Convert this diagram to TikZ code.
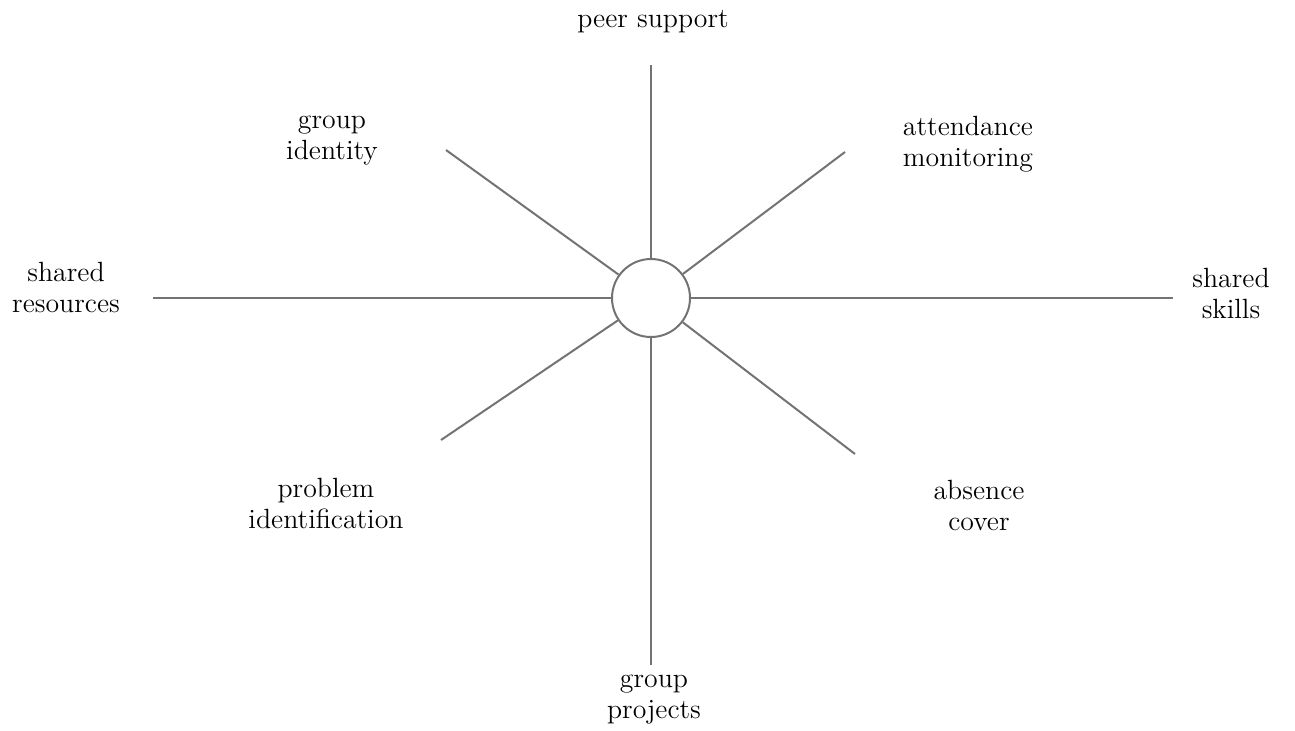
\documentclass[tikz,border=0pt]{standalone}
\tikzset{
  spoke/.style={draw=black!55,line width=1pt},
  lbl/.style={align=center,inner sep=0pt,font=\fontsize{13.9}{15.5}\selectfont}
}
\begin{document}
\begin{tikzpicture}[x=0.5pt,y=-0.5pt]
\useasboundingbox (0,0) rectangle (1295,730);

% The hub in the middle.
\node[spoke,circle,minimum size=39pt,inner sep=0pt] (hub) at (651,298) {};

% Free ends of the spokes.
\coordinate (n)  at (651,65);
\coordinate (s)  at (651,665);
\coordinate (w)  at (153,298);
\coordinate (e)  at (1173,298);
\coordinate (nw) at (446,150);
\coordinate (ne) at (845,152);
\coordinate (sw) at (441,440);
\coordinate (se) at (855,454);

\foreach \p in {n,s,w,e,nw,ne,sw,se}
  \draw[spoke] (hub) -- (\p);

% Labels.
\node[lbl] (peer)       at (653,22)  {peer support};
\node[lbl] (resources)  at (66,287)  {shared\\resources};
\node[lbl] (skills)     at (1231,293) {shared\\skills};
\node[lbl] (identity)   at (332,141) {group\\identity};
\node[lbl] (monitoring) at (968,144) {attendance\\monitoring};
\node[lbl] (problem)    at (326,503) {problem\\identification};
\node[lbl] (absence)    at (979,505) {absence\\cover};
\node[lbl] (projects)   at (654,700) {group\\projects};

\end{tikzpicture}
\end{document}
